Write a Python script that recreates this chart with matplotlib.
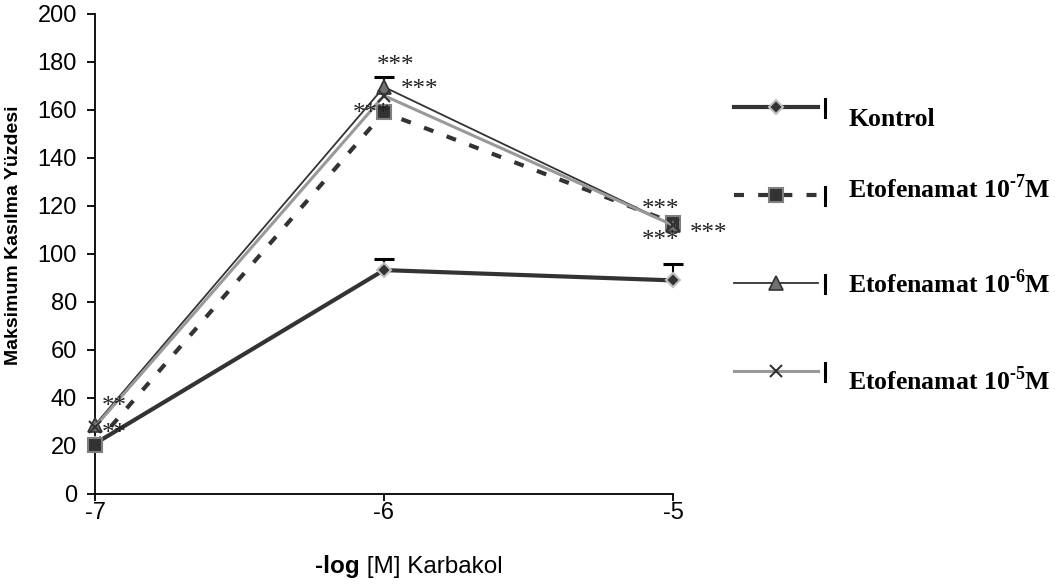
import matplotlib.pyplot as plt
import numpy as np

plt.rcParams['font.family'] = 'Liberation Sans'
plt.rcParams['mathtext.fontset'] = 'custom'
plt.rcParams['mathtext.rm'] = 'Liberation Serif:bold'
plt.rcParams['mathtext.bf'] = 'Liberation Serif:bold'

# data
x_log = np.array([-7, -6, -5])
kontrol = np.array([21, 93.3, 89])
eto7 = np.array([20.5, 159, 113])
eto6 = np.array([28.8, 169.6, 112])
eto5 = np.array([28, 166, 112])
kontrol_err = np.array([0, 4.5, 7])
eto6_err = np.array([0, 4, 0])

labels = ['Kontrol', r'Etofenamat 10$^{\text{-7}}$M', r'Etofenamat 10$^{\text{-6}}$M',
          r'Etofenamat 10$^{\text{-5}}$M']
y_ticks = np.arange(0, 201, 20)
x_ticks = [-7, -6, -5]

series = [kontrol, eto7, eto6, eto5]
styles = [
    dict(color='#333333', lw=3, ls='-', marker='D', ms=7, mfc='#333333', mec='#c0c0c0', mew=1.5),
    dict(color='#333333', lw=3, ls=(0, (2.4, 3.4)), marker='s', ms=10, mfc='#333333', mec='#808080', mew=1.5),
    dict(color='#333333', lw=1.3, ls='-', marker='^', ms=10, mfc='#707070', mec='#333333', mew=1.2),
    dict(color='#999999', lw=2.2, ls='-', marker='x', ms=9, mec='#333333', mew=1.5),
]

# significance stars: (text, series index, point index, dx px, dy px of star centre)
stars = [
    ('**', 2, 0, 19, 21),
    ('**', 1, 0, 19, 14),
    ('***', 2, 1, 12, 24),
    ('***', 2, 1, 36, 0),
    ('***', 1, 1, -12, 1),
    ('***', 1, 2, -12, 16),
    ('***', 1, 2, -12, -15),
    ('***', 1, 2, 36, -8),
]
star_lift = 9  # star centre sits this many px above the baseline

fig = plt.figure(figsize=(10.59, 5.88), dpi=100)
ax = fig.add_axes([95 / 1059, 94 / 588, 578 / 1059, 480 / 588])

# error bars (upper only)
for y, err in [(kontrol, kontrol_err), (eto6, eto6_err)]:
    m = err > 0
    eb = ax.errorbar(x_log[m], y[m], yerr=[np.zeros(m.sum()), err[m]], fmt='none',
                     ecolor='black', elinewidth=1.5, capsize=7, capthick=2.2, zorder=1)
    eb[1][0].set_visible(False)
    eb[1][1].set_clip_on(False)
    for c in eb[2]:
        c.set_clip_on(False)

for y, st in zip(series, styles):
    ax.plot(x_log, y, zorder=3, clip_on=False, **st)

for txt, si, pi, dx, dy in stars:
    ax.annotate(txt, xy=(x_log[pi], series[si][pi]), xytext=(dx, dy - star_lift),
                textcoords='offset pixels', ha='center', va='baseline',
                fontsize=18, family='Liberation Serif', color='#222222', zorder=4)

ax.set_xlim(-7, -5)
ax.set_ylim(0, 200)
ax.set_xticks(x_ticks)
ax.set_xticklabels(['-7', '-6', '-5'])
ax.set_yticks(y_ticks)
ax.tick_params(direction='out', length=6, width=1.3, labelsize=17)
ax.tick_params(axis='y', pad=7)
ax.tick_params(axis='x', length=5, pad=1)
for s in ['top', 'right']:
    ax.spines[s].set_visible(False)
for s in ['left', 'bottom']:
    ax.spines[s].set_linewidth(1.3)

ax.set_ylabel('Maksimum Kasılma Yüzdesi', fontsize=14, fontweight='bold')
ax.yaxis.set_label_coords(-0.126, 0.54)

t1 = fig.text(315 / 1059, (588 - 573) / 588, '-log', fontsize=17.5, fontweight='bold',
              ha='left', va='baseline')
ax.annotate(' [M] Karbakol', xy=(1, 0), xycoords=t1, va='bottom', ha='left', fontsize=17.5)

# legend drawn by hand in pixel space
lg = fig.add_axes([720 / 1059, 0, 339 / 1059, 1])
lg.set_xlim(720, 1059)
lg.set_ylim(588, 0)
lg.axis('off')
row_y = [107, 195, 283, 371]
text_base = [126, 198, 293, 390]
for st, yy, tb, lab in zip(styles, row_y, text_base, labels):
    lg.plot([734, 818], [yy, yy], **{k: v for k, v in st.items() if k not in ('marker', 'ms', 'mfc', 'mec', 'mew')})
    lg.plot([776], [yy], ls='none', **{k: v for k, v in st.items() if k in ('marker', 'ms', 'mfc', 'mec', 'mew', 'color')})
    lg.plot([825, 825], [yy - 8, yy + 10], color='black', lw=2.2)
    lg.text(848, tb, lab, fontsize=18.5, family='Liberation Serif', fontweight='bold', va='baseline')

fig.savefig('out.png', dpi=100)
